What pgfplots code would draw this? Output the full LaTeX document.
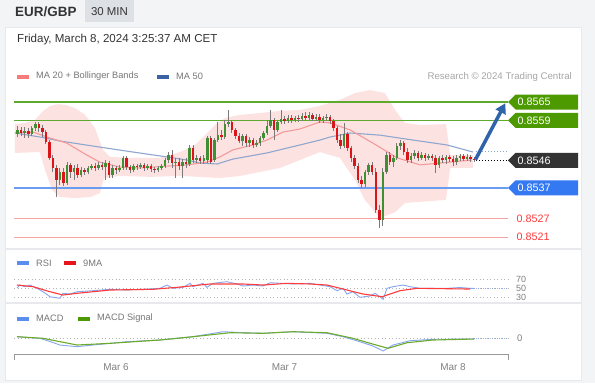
\documentclass[border=0pt]{standalone}
\usepackage{pgfplots}
\pgfplotsset{compat=1.18}
\usepackage{pgfplotstable}
\usepackage{fontspec}
\setmainfont{Liberation Sans}
\usetikzlibrary{arrows.meta}
\definecolor{bgc}{HTML}{F3F4F6}
\definecolor{sepc}{HTML}{E7E9EC}
\definecolor{hdrbox}{HTML}{DDE1E6}
\definecolor{txt}{HTML}{333333}
\definecolor{lgtxt}{HTML}{777777}
\definecolor{gline}{HTML}{5DAA2E}
\definecolor{gtag}{HTML}{4C9A00}
\definecolor{bline}{HTML}{6A9CF2}
\definecolor{btag}{HTML}{3479F1}
\definecolor{rline}{HTML}{F4A3A3}
\definecolor{rtxt}{HTML}{FF3B3B}
\definecolor{dtag}{HTML}{333333}
\definecolor{band}{HTML}{FDE2E2}
\definecolor{ma20}{HTML}{F39A9A}
\definecolor{ma50}{HTML}{8FA6CF}
\definecolor{cup}{HTML}{3F8F35}
\definecolor{cdn}{HTML}{D9141B}
\definecolor{wick}{HTML}{7A7A7A}
\definecolor{arrowc}{HTML}{2F64AA}
\definecolor{rsiblue}{HTML}{86A6F0}
\definecolor{rsired}{HTML}{FF3A3A}
\definecolor{macdgreen}{HTML}{6BAA2A}
\definecolor{legpink}{HTML}{F77B7B}
\definecolor{legblue}{HTML}{3A62A5}
\definecolor{leglblue}{HTML}{5B8DEF}
\definecolor{legred}{HTML}{E8141C}
\definecolor{leggreen}{HTML}{4C9900}
\definecolor{gridc}{HTML}{B5B5B5}

\pgfplotstableread{
x o c h l
-28 0.85546 0.85559 0.85572 0.85536
-27 0.85559 0.85549 0.85569 0.85539
-26 0.85549 0.85555 0.85569 0.85533
-25 0.85555 0.85546 0.85565 0.85533
-24 0.85546 0.85565 0.85572 0.85539
-23 0.85565 0.85578 0.85585 0.85555
-22 0.85578 0.85565 0.85585 0.85552
-21 0.85565 0.85552 0.85575 0.85536
-20 0.85552 0.85520 0.85559 0.85513
-19 0.85520 0.85468 0.85526 0.85461
-18 0.85468 0.85435 0.85477 0.85422
-17 0.85435 0.85396 0.85445 0.85340
-16 0.85396 0.85422 0.85435 0.85379
-15 0.85422 0.85386 0.85435 0.85376
-14 0.85386 0.85445 0.85454 0.85379
-13 0.85445 0.85422 0.85451 0.85402
-12 0.85422 0.85435 0.85445 0.85396
-11 0.85435 0.85412 0.85448 0.85402
-10 0.85412 0.85428 0.85438 0.85406
-9 0.85428 0.85422 0.85435 0.85412
-8 0.85422 0.85435 0.85441 0.85415
-7 0.85435 0.85441 0.85448 0.85428
-6 0.85441 0.85435 0.85451 0.85425
-5 0.85435 0.85445 0.85454 0.85428
-4 0.85445 0.85438 0.85454 0.85428
-3 0.85438 0.85451 0.85461 0.85396
-2 0.85451 0.85412 0.85458 0.85402
-1 0.85412 0.85435 0.85445 0.85402
0 0.85435 0.85428 0.85441 0.85415
1 0.85428 0.85435 0.85445 0.85422
2 0.85435 0.85468 0.85474 0.85428
3 0.85468 0.85438 0.85474 0.85428
4 0.85438 0.85428 0.85445 0.85419
5 0.85428 0.85441 0.85448 0.85422
6 0.85441 0.85438 0.85448 0.85428
7 0.85438 0.85445 0.85451 0.85432
8 0.85445 0.85435 0.85451 0.85425
9 0.85435 0.85441 0.85448 0.85428
10 0.85441 0.85432 0.85448 0.85422
11 0.85432 0.85428 0.85438 0.85419
12 0.85428 0.85435 0.85441 0.85422
13 0.85435 0.85441 0.85448 0.85428
14 0.85441 0.85461 0.85468 0.85435
15 0.85461 0.85477 0.85487 0.85451
16 0.85477 0.85451 0.85494 0.85435
17 0.85451 0.85454 0.85468 0.85402
18 0.85454 0.85441 0.85468 0.85428
19 0.85441 0.85454 0.85464 0.85402
20 0.85454 0.85448 0.85468 0.85435
21 0.85448 0.85500 0.85510 0.85441
22 0.85500 0.85461 0.85510 0.85451
23 0.85461 0.85468 0.85477 0.85451
24 0.85468 0.85458 0.85474 0.85448
25 0.85458 0.85468 0.85477 0.85448
26 0.85461 0.85533 0.85539 0.85451
27 0.85533 0.85454 0.85539 0.85448
28 0.85461 0.85526 0.85533 0.85454
29 0.85526 0.85542 0.85585 0.85520
30 0.85542 0.85536 0.85559 0.85526
31 0.85536 0.85578 0.85591 0.85529
32 0.85578 0.85585 0.85624 0.85569
33 0.85585 0.85559 0.85591 0.85549
34 0.85559 0.85539 0.85565 0.85529
35 0.85539 0.85523 0.85549 0.85516
36 0.85523 0.85539 0.85546 0.85507
37 0.85539 0.85516 0.85546 0.85503
38 0.85516 0.85526 0.85536 0.85503
39 0.85526 0.85510 0.85533 0.85500
40 0.85510 0.85516 0.85526 0.85503
41 0.85516 0.85533 0.85539 0.85507
42 0.85533 0.85549 0.85555 0.85526
43 0.85549 0.85572 0.85591 0.85542
44 0.85572 0.85591 0.85624 0.85565
45 0.85591 0.85559 0.85598 0.85526
46 0.85559 0.85585 0.85591 0.85552
47 0.85585 0.85595 0.85624 0.85578
48 0.85595 0.85588 0.85604 0.85578
49 0.85588 0.85598 0.85608 0.85582
50 0.85598 0.85591 0.85608 0.85582
51 0.85591 0.85598 0.85604 0.85585
52 0.85598 0.85595 0.85608 0.85585
53 0.85595 0.85604 0.85614 0.85588
54 0.85604 0.85598 0.85617 0.85591
55 0.85598 0.85608 0.85617 0.85591
56 0.85608 0.85595 0.85614 0.85588
57 0.85595 0.85601 0.85611 0.85588
58 0.85601 0.85591 0.85611 0.85582
59 0.85591 0.85598 0.85604 0.85582
60 0.85598 0.85601 0.85611 0.85588
61 0.85601 0.85588 0.85608 0.85578
62 0.85588 0.85565 0.85595 0.85555
63 0.85565 0.85526 0.85572 0.85516
64 0.85526 0.85507 0.85546 0.85497
65 0.85507 0.85546 0.85582 0.85500
66 0.85546 0.85500 0.85552 0.85490
67 0.85500 0.85468 0.85507 0.85454
68 0.85468 0.85441 0.85477 0.85432
69 0.85441 0.85396 0.85451 0.85386
70 0.85396 0.85383 0.85409 0.85370
71 0.85383 0.85422 0.85428 0.85373
72 0.85422 0.85445 0.85451 0.85412
73 0.85445 0.85422 0.85454 0.85412
74 0.85422 0.85298 0.85435 0.85288
75 0.85298 0.85265 0.85314 0.85239
76 0.85265 0.85422 0.85435 0.85246
77 0.85422 0.85477 0.85487 0.85415
78 0.85477 0.85454 0.85487 0.85445
79 0.85454 0.85468 0.85477 0.85438
80 0.85468 0.85507 0.85516 0.85461
81 0.85507 0.85516 0.85526 0.85494
82 0.85516 0.85487 0.85523 0.85477
83 0.85487 0.85461 0.85500 0.85451
84 0.85461 0.85474 0.85484 0.85451
85 0.85474 0.85484 0.85494 0.85464
86 0.85484 0.85468 0.85490 0.85458
87 0.85468 0.85477 0.85487 0.85461
88 0.85477 0.85468 0.85484 0.85458
89 0.85468 0.85474 0.85481 0.85461
90 0.85474 0.85468 0.85481 0.85458
91 0.85468 0.85445 0.85477 0.85419
92 0.85445 0.85468 0.85474 0.85435
93 0.85468 0.85461 0.85477 0.85451
94 0.85461 0.85471 0.85477 0.85448
95 0.85471 0.85464 0.85477 0.85454
96 0.85464 0.85454 0.85474 0.85441
97 0.85454 0.85468 0.85477 0.85445
98 0.85468 0.85474 0.85481 0.85458
99 0.85474 0.85464 0.85481 0.85458
100 0.85464 0.85471 0.85481 0.85458
101 0.85471 0.85464 0.85477 0.85454
102 0.85464 0.85460 0.85471 0.85454
}\candles

\newcommand{\pricetag}[3]{%
  \fill[#2] (axis cs:111.68,#1) -- ++(7.5bp,7.5bp) -- ++(62.5bp,0bp) -- ++(0bp,-15bp) -- ++(-62.5bp,0bp) -- cycle;
  \node[anchor=west, inner sep=0pt, text=white, font=\fontsize{10.8}{12}\selectfont] at ([xshift=9.5bp]axis cs:111.68,#1) {#3};}

\begin{document}
\begin{tikzpicture}[x=1bp,y=1bp]
\path[use as bounding box] (0,0) rectangle (595,-383);
\fill[bgc] (0,0) rectangle (595,-383);
\fill[white] (5,-27) rectangle (581,-380);
\draw[sepc, line width=0.8bp] (5,-27) rectangle (581,-380);
\fill[sepc] (5,-247.5) rectangle (581,-250);
% header
\node[anchor=west, inner sep=0pt, text=txt, font=\fontsize{13.5}{15}\selectfont\bfseries] at (15,-12) {EUR/GBP};
\fill[hdrbox] (85,0) rectangle (134,-22);
\node[inner sep=0pt, text=txt, font=\fontsize{11.5}{13}\selectfont] at (109.5,-11.5) {30 MIN};
\node[anchor=west, inner sep=0pt, text=txt, font=\fontsize{11.6}{13}\selectfont] at (17,-39.5) {Friday, March 8, 2024 3:25:37 AM CET};
% main legend
\fill[legpink] (17,-74.5) rectangle (29,-78.5);
\node[anchor=west, inner sep=0pt, text=lgtxt, font=\fontsize{9.3}{11}\selectfont] at (36,-76.5) {MA 20 + Bollinger Bands};
\fill[legblue] (157,-74.5) rectangle (169,-78.5);
\node[anchor=west, inner sep=0pt, text=lgtxt, font=\fontsize{9.3}{11}\selectfont] at (176,-76.5) {MA 50};
\node[anchor=east, inner sep=0pt, text=black!35, font=\fontsize{9.7}{11}\selectfont] at (572,-76.5) {Research \textcopyright\ 2024 Trading Central};

% ---------- price panel ----------
\begin{axis}[at={(14bp,-245bp)}, anchor=south west, scale only axis, width=494bp, height=160bp,
  xmin=-29.06, xmax=111.68, ymin=0.851839, ymax=0.857054, hide axis, clip=false]
\addplot[fill=band, draw=none] coordinates {
(-28.8,0.85578) (-25.9,0.85582) (-23.1,0.85591) (-21.1,0.85617) (-18.8,0.85637) (-16.5,0.85643)
(-14.2,0.85640) (-11.7,0.85630) (-8.8,0.85608) (-6.0,0.85565) (-3.7,0.85494) (-1.7,0.85471)
(4.0,0.85468) (12.5,0.85468) (18.2,0.85487) (22.5,0.85510) (25.4,0.85542) (28.2,0.85575)
(31.1,0.85598) (35.3,0.85608) (41.0,0.85614) (46.7,0.85621) (52.4,0.85624) (58.1,0.85637)
(63.8,0.85657) (68.1,0.85679) (72.4,0.85689) (76.6,0.85679) (79.5,0.85624) (82.3,0.85582)
(86.6,0.85575) (94.0,0.85578) (95.2,0.85477) (101.7,0.85477)
(101.7,0.85435) (95.2,0.85435) (94.0,0.85331) (82.3,0.85321) (79.5,0.85291) (75.2,0.85272)
(70.9,0.85331) (68.1,0.85396) (63.8,0.85468) (58.1,0.85487) (52.4,0.85461) (46.7,0.85435)
(41.0,0.85422) (35.3,0.85409) (29.6,0.85402) (23.9,0.85406) (18.2,0.85409) (9.7,0.85406)
(1.1,0.85409) (-3.4,0.85402) (-4.6,0.85353) (-7.4,0.85340) (-11.7,0.85337) (-16.0,0.85340)
(-18.2,0.85363) (-20.2,0.85428) (-21.7,0.85487) (-28.8,0.85484)};
\addplot[ma50, line width=1.1bp] coordinates {
(-28.8,0.85549) (-21.7,0.85536) (-16.0,0.85523) (-4.6,0.85503) (4.8,0.85487) (14.5,0.85471)
(20.2,0.85461) (23.9,0.85451) (28.8,0.85448) (33.3,0.85464) (43.0,0.85484) (52.4,0.85510)
(58.1,0.85526) (61.0,0.85536) (66.7,0.85549) (75.2,0.85542) (84.6,0.85526) (94.3,0.85510)
(101.7,0.85487)};
\addplot[ma20, line width=1.1bp] coordinates {
(-28.8,0.85549) (-23.6,0.85552) (-19.7,0.85536) (-14.0,0.85516) (-8.3,0.85477) (-4.6,0.85454)
(1.1,0.85438) (6.8,0.85435) (14.5,0.85441) (20.2,0.85445) (25.9,0.85454) (29.6,0.85471)
(33.3,0.85494) (39.0,0.85510) (43.0,0.85526) (47.6,0.85552) (52.4,0.85562) (58.1,0.85585)
(61.0,0.85582) (66.7,0.85559) (73.2,0.85516) (80.1,0.85468) (86.6,0.85445) (92.3,0.85451)
(101.4,0.85461)};
\addplot[gline, line width=1.8bp] coordinates {(-29.06,0.8565) (111.68,0.8565)};
\addplot[gline, line width=1.8bp] coordinates {(-29.06,0.8559) (111.68,0.8559)};
\addplot[bline, line width=1.8bp] coordinates {(-29.06,0.8537) (111.68,0.8537)};
\addplot[rline, line width=0.9bp] coordinates {(-29.06,0.8527) (111.68,0.8527)};
\addplot[rline, line width=0.9bp] coordinates {(-29.06,0.8521) (111.68,0.8521)};
% wicks
\addplot[draw=none, mark=none, error bars/.cd, y dir=plus, y explicit, error mark=none,
  error bar style={draw=wick, line width=0.7bp}]
  table[x=x, y=l, y error plus expr=\thisrow{h}-\thisrow{l}] {\candles};
% bodies up
\addplot[draw=none, mark=none, restrict expr to domain={\thisrow{c}-\thisrow{o}}{0:1},
  error bars/.cd, y dir=plus, y explicit, error mark=none, error bar style={draw=cup, line width=2.5bp}]
  table[x=x, y=o, y error plus expr=\thisrow{c}-\thisrow{o}] {\candles};
% bodies down
\addplot[draw=none, mark=none, restrict expr to domain={\thisrow{c}-\thisrow{o}}{-1:0},
  error bars/.cd, y dir=minus, y explicit, error mark=none, error bar style={draw=cdn, line width=2.5bp}]
  table[x=x, y=o, y error minus expr=\thisrow{o}-\thisrow{c}] {\candles};
\addplot[ma50, line width=1bp, dash pattern=on 1bp off 2bp] coordinates {(102.5,0.85490) (111.68,0.85490)};
\addplot[black, line width=0.8bp, dash pattern=on 1bp off 2bp] coordinates {(102.5,0.8546) (111.68,0.8546)};
\draw[arrowc, line width=3.5bp, -{Triangle[length=10bp,width=11bp]}] (axis cs:102.4,0.85462) -- (axis cs:110.9,0.85646);
\pricetag{0.8565}{gtag}{0.8565}
\pricetag{0.8559}{gtag}{0.8559}
\pricetag{0.8546}{dtag}{0.8546}
\pricetag{0.8537}{btag}{0.8537}
\node[anchor=west, inner sep=0pt, text=rtxt, font=\fontsize{10.8}{12}\selectfont] at ([xshift=8.5bp]axis cs:111.68,0.8527) {0.8527};
\node[anchor=west, inner sep=0pt, text=rtxt, font=\fontsize{10.8}{12}\selectfont] at ([xshift=8.5bp]axis cs:111.68,0.8521) {0.8521};
\end{axis}

% ---------- RSI panel ----------
\fill[leglblue] (17,-261) rectangle (29,-265);
\node[anchor=west, inner sep=0pt, text=lgtxt, font=\fontsize{9.3}{11}\selectfont] at (36,-263) {RSI};
\fill[legred] (64,-261) rectangle (76,-265);
\node[anchor=west, inner sep=0pt, text=lgtxt, font=\fontsize{9.3}{11}\selectfont] at (83,-263) {9MA};
\begin{axis}[at={(14bp,-300bp)}, anchor=south west, scale only axis, width=494bp, height=30bp,
  xmin=-29.06, xmax=111.68, ymin=24, ymax=90.7, hide axis, clip=false]
\addplot[gridc, line width=0.7bp, dash pattern=on 1bp off 2.5bp] coordinates {(-29.06,70) (111.68,70)};
\addplot[gridc, line width=0.7bp, dash pattern=on 1bp off 2.5bp] coordinates {(-29.06,50) (111.68,50)};
\addplot[gridc, line width=0.7bp, dash pattern=on 1bp off 2.5bp] coordinates {(-29.06,30) (111.68,30)};
\addplot[rsiblue, line width=0.9bp] coordinates {
(-28.2,50.7) (-27.4,57.3) (-25.9,53.6) (-24.5,57.3) (-22.5,50) (-20.8,42.4) (-18.8,31.3)
(-16.0,27.8) (-15.1,38.9) (-13.1,37.3) (-11.1,42.4) (-6.6,44.7) (-1.7,47.8) (3.1,46.2)
(7.7,47.8) (12.5,50) (14.5,57.3) (16.2,50) (19.1,52.2) (21.1,61.1) (21.9,53.6) (24.8,61.1)
(25.9,52.2) (27.6,61.1) (31.6,64.7) (34.5,59.6) (36.2,55.1) (39.0,57.3) (41.9,55.1)
(43.9,62.4) (50.4,59.6) (55.3,61.1) (58.1,57.3) (61.0,53.6) (63.0,44.7) (64.7,50)
(65.8,37.3) (67.5,42.4) (69.5,30) (72.4,32.9) (73.8,38.9) (75.2,31.3) (76.1,25.6)
(77.2,50) (78.9,53.6) (81.8,57.3) (83.8,53.6) (86.6,50) (90.3,50) (94.3,50) (98.0,51.8)
(100.9,50) (102,50)};
\addplot[rsired, line width=1.1bp] coordinates {
(-28.2,57.3) (-23.6,53.6) (-18.8,42.4) (-15.1,35.1) (-11.1,38.9) (-1.7,46.2) (10.5,47.8)
(17.4,52.2) (26.8,59.6) (36.2,59.6) (41.9,57.3) (48.7,61.1) (55.3,59.6) (60.1,57.3)
(65.8,46.2) (70.4,37.3) (75.8,31.3) (80.9,44.7) (85.8,50) (100.9,48.4)};
\addplot[rsiblue, line width=0.8bp, dash pattern=on 1bp off 2.5bp] coordinates {(102,50) (111.68,50)};
\end{axis}
\node[anchor=west, inner sep=0pt, text=black!50, font=\fontsize{9}{10}\selectfont] at (516,-279) {70};
\node[anchor=west, inner sep=0pt, text=black!50, font=\fontsize{9}{10}\selectfont] at (516,-288.5) {50};
\node[anchor=west, inner sep=0pt, text=black!50, font=\fontsize{9}{10}\selectfont] at (516,-297.5) {30};
\fill[sepc] (5,-301.5) rectangle (581,-304);

% ---------- MACD panel ----------
\fill[leglblue] (17,-316.5) rectangle (29,-320.5);
\node[anchor=west, inner sep=0pt, text=lgtxt, font=\fontsize{9.3}{11}\selectfont] at (36,-318.5) {MACD};
\fill[leggreen] (78,-316.5) rectangle (90,-320.5);
\node[anchor=west, inner sep=0pt, text=lgtxt, font=\fontsize{9.3}{11}\selectfont] at (97,-318.5) {MACD Signal};
\begin{axis}[at={(14bp,-354bp)}, anchor=south west, scale only axis, width=494bp, height=26bp,
  xmin=-29.06, xmax=111.68, ymin=-0.00016, ymax=0.0001, hide axis, clip=false]
\addplot[gridc, line width=0.7bp, dash pattern=on 1bp off 2.5bp] coordinates {(-29.06,0) (111.68,0)};
\addplot[rsiblue, line width=0.9bp] coordinates {
(-28.2,0.000013) (-21.7,-0.000003) (-18.8,-0.000035) (-16.0,-0.00007) (-11.1,-0.000087)
(-6.6,-0.00007) (3.1,-0.000037) (12.5,-0.00002) (21.9,0.000013) (30.5,0.000063)
(36.2,0.000053) (41.9,0.000047) (50.4,0.000063) (60.1,0.000047) (64.7,0.000013)
(69.5,-0.000037) (73.2,-0.00008) (76.1,-0.00013) (78.9,-0.00007) (83.8,-0.000027)
(90.3,-0.000013) (102.0,-0.00001)};
\addplot[macdgreen, line width=1.1bp] coordinates {
(-28.2,0.000013) (-20.8,-0.000003) (-11.1,-0.00007) (-1.7,-0.000053) (12.5,-0.00002)
(21.9,0.000013) (32.5,0.000053) (41.9,0.000047) (50.4,0.000063) (60.1,0.000053)
(67.5,-0.000003) (72.4,-0.000053) (77.5,-0.000103) (82.9,-0.000047) (90.3,-0.00002)
(102.0,-0.00001)};
\addplot[rsiblue, line width=0.8bp, dash pattern=on 1bp off 2.5bp] coordinates {(102,0) (111.68,0)};
\end{axis}
\node[anchor=west, inner sep=0pt, text=black!50, font=\fontsize{9.5}{11}\selectfont] at (517,-338) {0};
% x axis
\draw[black!40, line width=0.8bp] (14.5,-360) -- (14.5,-354) -- (508,-354) -- (508,-360);
\node[inner sep=0pt, text=black!50, font=\fontsize{10}{12}\selectfont] at (116,-367.5) {Mar 6};
\node[inner sep=0pt, text=black!50, font=\fontsize{10}{12}\selectfont] at (284.5,-367.5) {Mar 7};
\node[inner sep=0pt, text=black!50, font=\fontsize{10}{12}\selectfont] at (453,-367.5) {Mar 8};
\end{tikzpicture}
\end{document}
